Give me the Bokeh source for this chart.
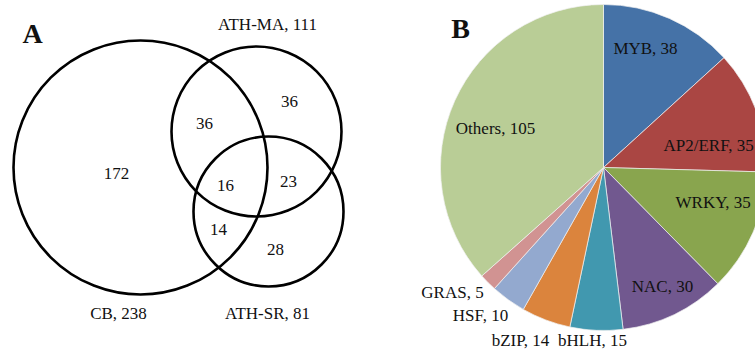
import numpy as np
import pandas as pd
from bokeh.plotting import figure
from bokeh.models import Range1d, ColumnDataSource
from bokeh.core.properties import value
from bokeh.embed import file_html
from bokeh.resources import INLINE

# ---- Data ----
venn_sets = ["CB", "ATH-MA", "ATH-SR"]
venn_totals = [238, 111, 81]
venn_regions = ["CB only", "CB&MA", "MA only", "all", "MA&SR", "CB&SR", "SR only"]
venn_counts = [172, 36, 36, 16, 23, 14, 28]

tf_families = ["MYB", "AP2/ERF", "WRKY", "NAC", "bHLH", "bZIP", "HSF", "GRAS", "Others"]
tf_counts = [38, 35, 35, 30, 15, 14, 10, 5, 105]
tf_colors = ["#4572A7", "#AA4643", "#89A54E", "#71588F", "#4198AF",
             "#DB843D", "#93A9CF", "#D19392", "#B9CD96"]

# ---- Layout (picture pixel coords; y measured from top) ----
W, H = 755, 350
def Y(py):
    return [H - v for v in py] if isinstance(py, list) else H - py

circle_x = [140, 256, 268]
circle_y = [167, 131, 211]
circle_r = [127, 85, 75]
set_label_x = [118, 267, 267]
set_label_y = [313, 24, 313]
region_x = [116, 204, 289, 225, 288, 218, 275]
region_y = [173, 123, 101, 185, 181, 229, 249]

pie_cx, pie_cy, pie_r = 603, 167, 163
pie_label_x = [645, 663, 675, 662, 592, 520, 480, 452, 495]
pie_label_y = [48, 145, 202, 286, 340, 340, 315, 292, 128]
pie_label_align = ["center", "left", "left", "center", "center", "center", "center", "center", "center"]

FONT = value("Liberation Serif")

p = figure(width=W, height=H, output_backend="svg", toolbar_location=None,
           x_range=Range1d(0, W), y_range=Range1d(0, H), min_border=0)
p.axis.visible = False
p.grid.visible = False
p.outline_line_color = None
p.background_fill_color = "white"
p.border_fill_color = "white"

# Pie
df = pd.DataFrame({"family": tf_families, "count": tf_counts, "color": tf_colors})
frac = df["count"] / df["count"].sum()
cum = frac.cumsum()
df["start"] = np.pi / 2 - (cum - frac) * 2 * np.pi
df["end"] = np.pi / 2 - cum * 2 * np.pi
df["x"] = pie_cx
df["y"] = Y(pie_cy)
p.wedge(x="x", y="y", radius=pie_r, start_angle="start", end_angle="end",
        direction="clock", fill_color="color", line_color="#f0f0f0", line_width=0.7,
        source=ColumnDataSource(df))

df["label"] = [f"{f}, {c}" for f, c in zip(tf_families, tf_counts)]
df["lx"] = pie_label_x
df["ly"] = Y(pie_label_y)
df["align"] = pie_label_align
p.text(x="lx", y="ly", text="label", text_align="align", text_baseline="middle",
       text_font=FONT, text_font_size="17px", text_color="#111111",
       source=ColumnDataSource(df[["lx", "ly", "label", "align"]]))

# Venn
p.circle(x=circle_x, y=Y(circle_y), radius=circle_r, fill_color=None,
         line_color="black", line_width=2.6)
p.text(x=set_label_x, y=Y(set_label_y),
       text=[f"{s}, {t}" for s, t in zip(venn_sets, venn_totals)],
       text_align="center", text_baseline="middle", text_font=FONT,
       text_font_size="17px", text_color="#111111")
p.text(x=region_x, y=Y(region_y), text=[str(c) for c in venn_counts],
       text_align="center", text_baseline="middle", text_font=FONT,
       text_font_size="17px", text_color="#111111")

# Panel letters
p.text(x=[32, 460], y=Y([33, 28]), text=["A", "B"], text_align="center",
       text_baseline="middle", text_font=FONT, text_font_size="28px",
       text_font_style="bold", text_color="#111111")

open("out.html", "w").write(file_html(p, INLINE))
